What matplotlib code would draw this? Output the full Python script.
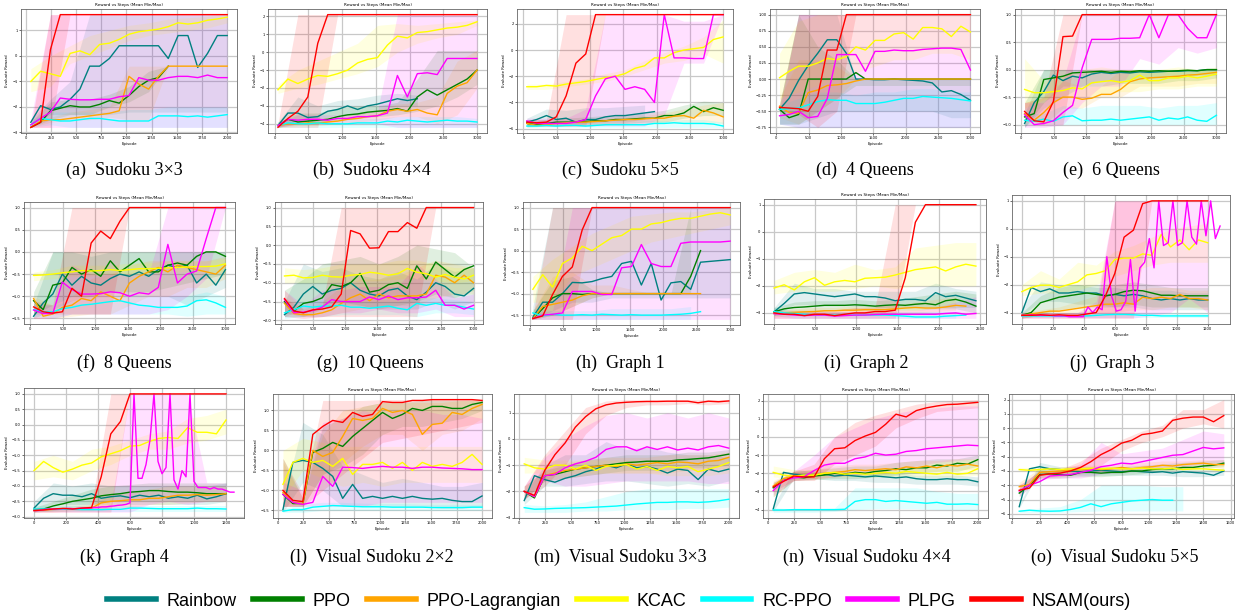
# -*- coding: utf-8 -*-
"""
Evaluate reward vs episode for the 15 benchmark tasks (mean line + min/max band).
"""

import numpy as np
import matplotlib.pyplot as plt
from matplotlib.lines import Line2D

ALGOS = ['Rainbow', 'PPO', 'PPO-Lagrangian', 'KCAC', 'RC-PPO', 'PLPG', 'NSAM(ours)']
KEYS = ['rainbow', 'ppo', 'lag', 'kcac', 'rcppo', 'plpg', 'nsam']
COLORS = ['teal', 'green', 'orange', 'yellow', 'cyan', 'magenta', 'red']

# means are read at 21 evenly spaced episodes over the panel range,
# bands (min, max) at 11 evenly spaced episodes. shorter lists = run stopped early.
# a tuple (first, last, values) gives a series its own episode range.

# (a) Sudoku 3x3
sudoku3_range = (50, 2000)
sudoku3_mean = dict(
    rainbow=[-2.6,-1.95,-2.1,-2.0,-1.7,-1.3,-0.4,-0.4,-0.1,0.4,0.4,0.4,0.4,0.4,-0.1,0.8,0.8,-0.45,0.1,0.8,0.8],
    ppo=[-2.8,-2.6,-2.15,-2.05,-1.95,-2.0,-2.0,-1.9,-1.75,-1.85,-1.55,-1.2,-0.95,-0.85,-0.4],
    lag=[-2.8,-2.55,-2.5,-2.5,-2.45,-2.4,-2.35,-2.3,-2.25,-2.15,-0.8,-1.1,-1.3,-0.8,-0.4,-0.4,-0.4,-0.4,-0.4,-0.4,-0.4],
    kcac=[-1.0,-0.6,-0.7,-0.8,0.1,0.2,0.05,0.45,0.5,0.65,0.85,0.95,1.0,1.05,1.15,1.3,1.25,1.3,1.4,1.45,1.52],
    rcppo=[-2.7,-2.45,-2.5,-2.55,-2.55,-2.5,-2.45,-2.45,-2.5,-2.55,-2.55,-2.55,-2.55,-2.35,-2.35,-2.35,-2.38,-2.35,-2.4,-2.35,-2.3],
    plpg=[-2.7,-2.45,-2.2,-1.65,-1.7,-1.72,-1.72,-1.7,-1.7,-1.6,-1.55,-0.85,-0.95,-0.95,-0.85,-0.8,-0.8,-0.85,-0.75,-0.85,-0.85],
    nsam=[-2.8,-2.6,0.25,1.62,1.62,1.62,1.62,1.62,1.62,1.62,1.62,1.62,1.62,1.62,1.62,1.62,1.62,1.62,1.62,1.62,1.62],
)
sudoku3_band = dict(
    rainbow=([-2.7,-2.3,-2.3,-2.3,-2.3,-2.2,-2.2,-2.2,-2.2,-2.2,-2.2], [-2.5,-1.7,-1.0,1.62,1.62,1.62,1.62,1.62,1.62,1.62,1.62]),
    ppo=([-2.8,-2.5,-2.3,-2.3,-2.0,-1.8,-1.4,-0.4], [-2.6,-1.8,-1.7,-1.7,-1.5,-1.2,-0.6,-0.4]),
    lag=([-2.8,-2.6,-2.5,-2.5,-2.4,-2.5,-2.5,-0.4,-0.4,-0.4,-0.4], [-2.8,-2.4,-2.2,-2.1,-2.0,-0.4,-0.4,-0.4,-0.4,-0.4,-0.4]),
    kcac=([-1.4,-1.2,-0.3,0.0,0.3,0.6,0.8,0.9,1.0,1.1,1.3], [-0.5,0.0,0.4,0.8,1.0,1.2,1.3,1.45,1.5,1.55,1.62]),
    rcppo=([-2.8,-2.7,-2.8,-2.8,-2.8,-2.8,-2.8,-2.8,-2.8,-2.8,-2.8], [-2.5,-2.2,-2.2,-2.2,-2.2,-2.1,-2.1,-2.0,-2.0,-2.0,-2.0]),
    plpg=([-2.8,-2.8,-2.8,-2.8,-2.8,-2.8,-2.8,-2.8,-2.8,-2.8,-2.8], [-2.5,1.62,1.62,1.62,1.62,1.62,1.62,1.62,1.62,1.62,1.62]),
    nsam=([-2.8,-2.8,1.62,1.62,1.62,1.62,1.62,1.62,1.62,1.62,1.62], [-2.8,1.62,1.62,1.62,1.62,1.62,1.62,1.62,1.62,1.62,1.62]),
)

# (b) Sudoku 4x4
sudoku4_range = (50, 3000)
sudoku4_mean = dict(
    rainbow=[-4.1,-3.4,-3.4,-3.65,-3.6,-3.3,-3.2,-3.0,-3.2,-3.0,-2.9,-2.75,-2.6,-2.7,-2.6],
    ppo=[-4.1,-3.75,-3.9,-3.85,-3.8,-3.75,-3.6,-3.5,-3.45,-3.35,-3.3,-3.25,-3.15,-3.3,-2.5,-2.1,-2.4,-2.1,-1.8,-1.5,-1.0],
    lag=[-4.1,-4.0,-4.0,-3.95,-3.95,-3.9,-3.85,-3.75,-3.7,-3.6,-3.55,-3.3,-3.2,-3.3,-3.2,-3.4,-3.5,-2.3,-1.9,-1.7,-1.0],
    kcac=[-2.1,-1.5,-1.75,-1.5,-1.3,-1.35,-1.2,-1.0,-0.6,-0.4,-0.3,0.4,0.9,0.8,1.1,1.15,1.25,1.35,1.4,1.5,1.7],
    rcppo=[-4.1,-3.95,-4.0,-4.0,-3.95,-4.0,-4.0,-4.0,-3.95,-3.95,-3.95,-3.85,-3.9,-3.8,-3.85,-3.9,-3.85,-3.8,-3.85,-3.85,-3.9],
    plpg=[-4.1,-3.75,-3.8,-3.75,-3.75,-3.8,-3.7,-3.7,-3.6,-3.6,-3.55,-3.4,-1.3,-2.5,-1.2,-1.15,-1.25,-0.35,-0.35,-0.35,-0.35],
    nsam=[-4.2,-3.7,-3.3,-2.5,0.5,2.1,2.1,2.1,2.1,2.1,2.1,2.1,2.1,2.1,2.1,2.1,2.1,2.1,2.1,2.1,2.1],
)
sudoku4_band = dict(
    rainbow=([-4.2,-3.8,-3.8,-3.5,-3.5,-3.3,-3.0,-3.0], [-3.9,-2.5,-3.0,-2.7,-2.6,-2.4,-2.3,-2.4]),
    ppo=([-4.2,-4.0,-4.0,-3.8,-3.7,-3.6,-3.5,-3.3,-3.0,-2.5,-1.8], [-3.9,-3.4,-3.4,-3.1,-3.0,-3.0,-2.8,-1.5,0.1,0.1,0.1]),
    lag=([-4.2,-4.1,-4.1,-4.0,-3.9,-3.8,-3.6,-3.6,-4.0,-3.5,-2.0], [-4.0,-3.8,-3.7,-3.6,-3.4,-3.2,-2.9,-2.8,-2.5,-0.5,0.1]),
    kcac=([-2.3,-2.0,-1.8,-1.5,-1.2,-0.8,0.0,0.5,0.8,1.0,1.5], [-1.8,-1.0,-0.5,0.0,0.5,1.5,1.6,1.5,1.6,1.7,1.8]),
    rcppo=([-4.2,-4.2,-4.2,-4.2,-4.2,-4.2,-4.2,-4.2,-4.2,-4.2,-4.2], [-3.9,-3.7,-3.8,-3.7,-3.7,-3.7,-3.6,-3.6,-3.6,-3.6,-3.7]),
    plpg=([-4.2,-4.0,-4.0,-4.0,-4.0,-4.0,-4.2,-4.2,-4.2,-4.2,-4.2], [-4.0,-3.5,-3.5,-3.5,-3.4,-3.3,2.1,2.1,2.1,2.1,2.1]),
    nsam=([-4.2,-4.2,-4.2,2.1,2.1,2.1,2.1,2.1,2.1,2.1,2.1], [-4.0,2.1,2.1,2.1,2.1,2.1,2.1,2.1,2.1,2.1,2.1]),
)

# (c) Sudoku 5x5
sudoku5_range = (50, 3000)
sudoku5_mean = dict(
    rainbow=[-5.5,-5.3,-5.0,-5.3,-5.2,-5.5,-5.3,-5.3,-5.1,-5.0,-5.0,-4.9,-4.8,-4.7],
    ppo=[-5.6,-5.7,-5.6,-5.5,-5.5,-5.5,-5.45,-5.4,-5.4,-5.3,-5.3,-5.25,-5.2,-5.2,-5.0,-5.0,-4.8,-4.3,-4.7,-4.4,-4.6],
    lag=[-5.6,-5.75,-5.7,-5.6,-5.55,-5.5,-5.5,-5.45,-5.4,-5.35,-5.3,-5.3,-5.25,-5.2,-5.2,-5.05,-5.0,-5.2,-4.6,-4.8,-5.1],
    kcac=[-2.8,-2.8,-2.7,-2.75,-2.6,-2.5,-2.4,-2.25,-2.1,-2.0,-1.8,-1.4,-1.2,-0.6,-0.6,-0.2,0.0,0.1,0.2,0.8,1.0],
    rcppo=[-5.8,-5.8,-5.75,-5.8,-5.75,-5.75,-5.8,-5.75,-5.7,-5.7,-5.7,-5.7,-5.7,-5.6,-5.6,-5.55,-5.6,-5.6,-5.6,-5.65,-5.8],
    plpg=[-5.4,-5.6,-5.6,-5.6,-5.6,-5.5,-5.3,-3.5,-2.2,-2.0,-3.0,-2.8,-3.0,-4.0,2.7,-0.6,-0.6,-0.65,-0.65,2.7,2.7],
    nsam=[-5.5,-5.55,-5.5,-5.1,-3.5,-1.0,-0.3,2.7,2.7,2.7,2.7,2.7,2.7,2.7,2.7,2.7,2.7,2.7,2.7,2.7,2.7],
)
sudoku5_band = dict(
    rainbow=([-5.8,-5.6,-5.6,-5.6,-5.5,-5.5,-5.3], [-5.2,-4.5,-4.6,-4.4,-4.4,-4.3,-4.2]),
    ppo=([-5.8,-5.8,-5.8,-5.7,-5.7,-5.6,-5.5,-5.5,-5.2,-5.0,-5.0], [-5.4,-5.3,-5.2,-5.1,-5.0,-5.0,-4.8,-4.6,-4.2,-3.9,-4.0]),
    lag=([-5.9,-5.8,-5.8,-5.8,-5.7,-5.7,-5.6,-5.5,-5.5,-5.5,-5.6], [-5.4,-5.5,-5.4,-5.3,-5.2,-5.1,-5.0,-4.8,-4.5,-4.2,-4.0]),
    kcac=([-3.0,-3.0,-2.8,-2.6,-2.4,-2.0,-1.5,-1.0,-0.8,-0.3,-1.0], [-2.6,-2.6,-2.4,-2.2,-1.8,-1.5,-0.8,-0.2,0.3,1.0,2.3]),
    rcppo=([-5.9,-5.9,-5.9,-5.9,-5.9,-5.9,-5.9,-5.9,-5.9,-5.9,-5.9], [-5.6,-5.6,-5.6,-5.5,-5.5,-5.5,-5.4,-5.4,-5.3,-5.3,-5.5]),
    plpg=([-5.8,-5.8,-5.8,-5.8,-5.8,-5.8,-5.8,-5.0,-1.0,-1.0,2.7], [-5.2,-5.2,-5.2,-4.5,2.7,2.7,2.7,2.7,2.2,2.2,2.7]),
    nsam=([-5.8,-5.8,-5.8,-5.8,2.7,2.7,2.7,2.7,2.7,2.7,2.7], [-5.3,-5.3,2.7,2.7,2.7,2.7,2.7,2.7,2.7,2.7,2.7]),
)

# (d) 4 Queens
queens4_range = (50, 3000)
queens4_mean = dict(
    rainbow=[-0.47,-0.3,-0.02,0.21,0.4,0.61,0.61,0.4,0.0,0.0,-0.01,-0.01,0.0,-0.01,-0.02,-0.03,-0.06,-0.2,-0.18,-0.24,-0.33],
    ppo=[-0.47,-0.6,-0.55,0.0,0.0,0.0,0.0,0.0,0.1,0.0,0.0,0.0,0.0,0.0,0.0,0.0,0.0,0.0,0.0,0.0,0.0],
    lag=[-0.42,-0.52,-0.53,-0.21,-0.17,-0.1,-0.09,-0.07,-0.03,0.0,0.0,0.0,0.0,0.0,0.0,0.0,0.0,0.0,0.0,0.0,0.0],
    kcac=[0.02,0.12,0.2,0.2,0.25,0.32,0.3,0.35,0.5,0.45,0.6,0.6,0.7,0.72,0.62,0.8,0.8,0.78,0.66,0.82,0.73],
    rcppo=[-0.47,-0.46,-0.45,-0.4,-0.35,-0.32,-0.33,-0.33,-0.38,-0.38,-0.38,-0.36,-0.33,-0.3,-0.3,-0.27,-0.28,-0.29,-0.3,-0.32,-0.34],
    plpg=[-0.57,-0.55,-0.5,-0.6,-0.58,-0.3,0.38,0.38,0.38,0.12,0.43,0.43,0.45,0.44,0.44,0.46,0.47,0.48,0.48,0.46,0.14],
    nsam=[-0.44,-0.45,-0.46,-0.5,-0.27,0.45,0.45,1.0,1.0,1.0,1.0,1.0,1.0,1.0,1.0,1.0,1.0,1.0,1.0,1.0,1.0],
)
queens4_band = dict(
    rainbow=([-0.7,-0.7,-0.6,-0.5,-0.5,-0.5,-0.5,-0.5,-0.5,-0.6,-0.6], [-0.4,1.0,1.0,1.0,0.0,0.0,0.0,0.0,0.0,0.0,0.0]),
    ppo=([-0.7,-0.7,-0.5,-0.3,-0.1,-0.1,-0.1,-0.1,-0.1,-0.1,-0.1], [-0.4,1.0,0.5,0.3,0.0,0.0,0.0,0.0,0.0,0.0,0.0]),
    lag=([-0.6,-0.7,-0.5,-0.3,0.0,0.0,0.0,0.0,0.0,0.0,0.0], [-0.3,0.3,0.3,0.2,0.0,0.0,0.0,0.0,0.0,0.0,0.0]),
    kcac=([-0.3,-0.2,-0.1,0.0,0.1,0.2,0.3,0.3,0.4,0.4,0.3], [0.4,0.9,1.0,1.0,1.0,1.0,1.0,1.0,1.0,1.0,1.0]),
    rcppo=([-0.7,-0.75,-0.75,-0.75,-0.75,-0.75,-0.75,-0.75,-0.75,-0.75,-0.75], [-0.4,-0.3,-0.2,-0.2,-0.25,-0.2,-0.2,-0.15,-0.15,-0.2,-0.2]),
    plpg=([-0.7,-0.75,-0.75,-0.75,-0.75,-0.75,-0.75,-0.75,-0.75,-0.75,-0.75], [-0.5,1.0,1.0,1.0,1.0,1.0,1.0,1.0,1.0,1.0,1.0]),
    nsam=([-0.5,-0.55,-0.75,-0.5,1.0,1.0,1.0,1.0,1.0,1.0,1.0], [-0.4,1.0,1.0,1.0,1.0,1.0,1.0,1.0,1.0,1.0,1.0]),
)

# (e) 6 Queens
queens6_range = (50, 3000)
queens6_mean = dict(
    rainbow=[-0.98,-0.6,-0.4,-0.1,-0.2,-0.12,-0.15,-0.08,-0.05,-0.07,-0.05,-0.06,-0.04,-0.05,-0.04,-0.03,-0.03,-0.02,-0.02,0.0,0.0],
    ppo=[-0.86,-0.8,-0.18,-0.15,-0.12,-0.06,-0.05,-0.04,-0.03,-0.05,-0.03,-0.04,-0.02,-0.03,-0.02,-0.03,-0.02,-0.01,-0.02,0.0,0.0],
    lag=[-0.8,-0.92,-0.78,-0.6,-0.5,-0.5,-0.54,-0.52,-0.45,-0.45,-0.36,-0.22,-0.17,-0.15,-0.14,-0.13,-0.12,-0.1,-0.09,-0.07,-0.05],
    kcac=[-0.36,-0.42,-0.42,-0.4,-0.38,-0.33,-0.35,-0.24,-0.22,-0.2,-0.23,-0.2,-0.1,-0.2,-0.2,-0.15,-0.15,-0.12,-0.15,-0.12,-0.08],
    rcppo=[-0.92,-0.94,-0.9,-0.94,-0.86,-0.84,-0.93,-0.92,-0.92,-0.9,-0.92,-0.9,-0.88,-0.86,-0.92,-0.88,-0.9,-0.86,-0.92,-0.94,-0.83],
    plpg=[-0.82,-1.0,-0.98,-0.93,-0.78,-0.65,0.03,0.55,0.55,0.55,0.57,0.57,0.58,1.0,0.58,1.0,1.0,0.75,0.58,0.58,1.0],
    nsam=[-0.76,-0.93,-0.95,-0.58,0.6,0.61,1.0,1.0,1.0,1.0,1.0,1.0,1.0,1.0,1.0,1.0,1.0,1.0,1.0,1.0,1.0],
)
queens6_band = dict(
    rainbow=([-1.05,-0.7,-0.5,-0.3,-0.2,-0.2,-0.15,-0.15,-0.15,-0.1,-0.1], [-0.8,0.0,0.0,0.0,0.0,0.0,0.0,0.0,0.0,0.0,0.0]),
    ppo=([-1.05,-0.6,-0.3,-0.3,-0.3,-0.25,-0.25,-0.25,-0.2,-0.2,-0.15], [-0.6,0.0,0.0,0.0,0.0,0.0,0.0,0.0,0.0,0.0,0.0]),
    lag=([-1.0,-1.0,-0.7,-0.7,-0.5,-0.5,-0.3,-0.3,-0.3,-0.25,-0.25], [-0.6,-0.5,-0.2,-0.3,-0.3,0.0,0.0,0.0,0.0,0.0,0.0]),
    kcac=([-0.7,-0.55,-0.5,-0.5,-0.45,-0.4,-0.4,-0.35,-0.35,-0.3,-0.3], [0.2,-0.2,-0.1,0.0,0.05,0.0,0.0,0.0,0.05,0.0,0.05]),
    rcppo=([-1.0,-1.0,-1.0,-1.0,-1.0,-1.0,-1.0,-1.0,-1.0,-1.0,-1.0], [-0.8,-0.8,-0.65,-0.7,-0.65,-0.65,-0.65,-0.7,-0.65,-0.65,-0.6]),
    plpg=([-1.05,-1.05,-1.0,-0.6,-0.3,-0.3,0.2,0.1,0.4,0.3,0.4], [-0.6,-0.6,-0.2,1.0,1.0,1.0,1.0,1.0,1.0,1.0,1.0]),
    nsam=([-0.9,-1.0,-1.0,1.0,1.0,1.0,1.0,1.0,1.0,1.0,1.0], [-0.6,-0.5,1.0,1.0,1.0,1.0,1.0,1.0,1.0,1.0,1.0]),
)

# (f) 8 Queens
queens8_range = (50, 3000)
queens8_mean = dict(
    rainbow=[-1.45,-1.15,-0.95,-0.5,-0.75,-0.55,-0.7,-0.75,-0.6,-0.5,-0.55,-0.45,-0.55,-0.4,-0.3,-0.35,-0.3,-0.7,-0.5,-0.75,-0.4],
    ppo=[-1.1,-1.3,-0.75,-0.7,-0.35,-0.5,-0.4,-0.55,-0.2,-0.45,-0.3,-0.15,-0.45,-0.45,-0.3,-0.25,-0.3,-0.1,0.0,0.0,-0.1],
    lag=[-1.05,-1.45,-1.4,-1.25,-1.2,-1.05,-1.1,-0.9,-1.0,-1.1,-0.7,-0.55,-0.45,-0.35,-0.45,-0.3,-0.35,-0.4,-0.45,-0.5,-0.3],
    kcac=[-0.53,-0.52,-0.5,-0.47,-0.45,-0.42,-0.43,-0.42,-0.4,-0.42,-0.4,-0.38,-0.38,-0.37,-0.36,-0.35,-0.34,-0.33,-0.33,-0.32,-0.27],
    rcppo=[-1.3,-1.35,-1.35,-1.28,-1.25,-1.2,-1.18,-1.15,-1.12,-1.1,-1.15,-1.2,-1.22,-1.25,-1.25,-1.25,-1.22,-1.1,-1.08,-1.15,-1.25],
    plpg=[-1.31,-1.39,-1.39,-0.68,-0.85,-0.95,-0.95,-0.94,-0.9,-0.92,-1.0,-0.92,-0.95,-0.8,0.17,-0.7,-0.5,-0.43,0.3,1.0,1.0],
    nsam=[-1.24,-1.35,-1.38,-1.35,-0.82,-1.0,0.2,0.47,0.3,0.69,1.0,1.0,1.0,1.0,1.0,1.0,1.0,1.0,1.0,1.0,1.0],
)
queens8_band = dict(
    rainbow=([-1.5,-1.3,-1.1,-1.0,-1.0,-1.0,-1.0,-1.0,-1.2,-1.0,-0.8], [-1.2,0.0,0.0,-0.1,0.0,0.0,0.0,0.0,0.0,0.0,0.0]),
    ppo=([-1.4,-1.2,-1.0,-1.0,-0.9,-0.9,-0.9,-0.8,-0.7,-0.6,-0.5], [-0.9,0.0,0.0,0.0,0.0,0.0,0.0,0.0,0.0,0.0,0.0]),
    lag=([-1.5,-1.5,-1.45,-1.4,-1.4,-1.2,-1.0,-1.0,-0.8,-0.8,-0.6], [-1.0,-1.2,-1.0,-0.6,-0.5,-0.3,-0.2,-0.2,-0.2,-0.2,-0.1]),
    kcac=([-0.65,-0.6,-0.55,-0.55,-0.5,-0.5,-0.5,-0.45,-0.45,-0.45,-0.45], [-0.45,-0.4,-0.3,-0.3,-0.3,-0.25,-0.25,-0.2,-0.2,-0.2,-0.15]),
    rcppo=([-1.45,-1.5,-1.4,-1.4,-1.4,-1.4,-1.4,-1.4,-1.45,-1.4,-1.4], [-1.15,-1.2,-1.1,-1.0,-1.0,-0.95,-1.0,-1.0,-1.0,-0.9,-1.0]),
    plpg=([-1.5,-1.5,-1.4,-1.4,-1.4,-1.4,-1.4,-1.3,-1.0,-0.6,1.0], [-1.2,-1.2,-0.3,-0.5,-0.5,-0.5,-0.5,1.0,1.0,1.0,1.0]),
    nsam=([-1.4,-1.4,-1.4,-1.4,-1.4,1.0,1.0,1.0,1.0,1.0,1.0], [-1.1,-1.2,1.0,1.0,1.0,1.0,1.0,1.0,1.0,1.0,1.0]),
)

# (g) 10 Queens
queens10_range = (50, 3000)
queens10_mean = dict(
    rainbow=[-1.85,-1.65,-1.3,-1.1,-1.3,-1.2,-1.15,-1.0,-1.2,-1.3,-1.35,-1.2,-1.15,-1.35,-1.45,-1.25,-1.0,-1.1,-1.3,-1.35,-1.15],
    ppo=[-1.5,-1.75,-1.55,-1.5,-1.4,-1.05,-1.1,-1.0,-0.75,-1.25,-1.2,-1.05,-1.0,-1.15,-0.55,-0.9,-0.45,-0.65,-0.85,-0.65,-0.55],
    lag=[-1.55,-1.82,-1.85,-1.85,-1.8,-1.72,-1.55,-1.4,-1.3,-1.48,-1.3,-1.4,-1.35,-1.35,-1.35,-1.3,-0.8,-0.85,-1.0,-0.8,-1.0],
    kcac=[-0.82,-0.8,-0.87,-0.86,-0.8,-0.84,-0.85,-0.8,-0.78,-0.72,-0.75,-0.8,-0.76,-0.62,-0.72,-0.76,-0.85,-0.78,-0.85,-0.9,-0.8],
    rcppo=[-1.8,-1.72,-1.62,-1.65,-1.62,-1.62,-1.6,-1.65,-1.65,-1.68,-1.65,-1.62,-1.68,-1.72,-1.55,-1.6,-1.55,-1.6,-1.6,-1.65,-1.7],
    plpg=[-1.45,-1.8,-1.78,-1.74,-1.65,-1.45,-1.5,-1.5,-1.5,-1.38,-1.45,-1.35,-1.45,-1.4,-1.4,-1.38,-1.2,-1.6,-1.6,-1.7,-1.6],
    nsam=[-1.42,-1.75,-1.8,-1.72,-1.7,-1.64,-1.3,0.39,0.3,-0.08,-0.07,0.36,0.36,0.6,0.45,1.0,1.0,1.0,1.0,1.0,1.0],
)
queens10_band = dict(
    rainbow=([-1.9,-1.7,-1.6,-1.5,-1.6,-1.7,-1.7,-1.7,-1.5,-1.7,-1.5], [-1.5,-0.5,-0.7,-0.6,-0.8,-0.9,-0.7,-0.9,-0.5,-0.7,-0.6]),
    ppo=([-1.9,-1.9,-1.7,-1.6,-1.6,-1.7,-1.6,-1.5,-1.3,-1.4,-1.2], [-1.2,-0.9,-0.5,-0.4,-0.3,-0.5,-0.3,0.0,-0.1,-0.2,-0.6]),
    lag=([-1.9,-1.95,-1.9,-1.8,-1.7,-1.6,-1.6,-1.6,-1.4,-1.3,-1.3], [-1.2,-1.7,-1.5,-1.1,-0.9,-0.9,-0.8,-0.6,-0.4,-0.5,-0.6]),
    kcac=([-1.0,-1.0,-1.0,-1.0,-0.95,-0.95,-0.9,-0.9,-0.95,-1.0,-0.95], [-0.6,-0.65,-0.6,-0.5,-0.5,-0.5,-0.4,-0.4,-0.5,-0.6,-0.6]),
    rcppo=([-1.95,-1.9,-1.9,-1.85,-1.85,-1.85,-1.85,-1.9,-1.8,-1.8,-1.85], [-1.6,-1.5,-1.45,-1.45,-1.5,-1.5,-1.5,-1.4,-1.4,-1.45,-1.5]),
    plpg=([-1.9,-1.95,-1.9,-1.8,-1.8,-1.7,-1.8,-1.8,-1.7,-1.9,-1.9], [-1.2,-1.6,-1.2,-1.2,-1.1,-1.1,-1.1,-0.5,-0.9,-1.4,-1.3]),
    nsam=([-1.8,-1.9,-1.9,-1.9,-1.9,-1.9,-1.9,-1.9,1.0,1.0,1.0], [-1.4,-1.7,-1.6,1.0,1.0,1.0,1.0,1.0,1.0,1.0,1.0]),
)

# (h) Graph 1
graph1_range = (50, 3000)
graph1_mean = dict(
    rainbow=[-1.55,-1.2,-1.2,-1.0,-0.74,-0.75,-0.72,-0.65,-0.6,-0.3,-0.25,-0.8,-0.3,-1.15,-0.75,-0.72,-0.9,-0.27,-0.25,-0.23,-0.21],
    ppo=[-1.58,-1.35,-1.1,-1.0,-1.0,-1.02,-1.0,-1.0,-1.0,-1.0,-1.0,-1.0,-1.0,-1.0,-1.0,-1.0,-0.6,0.0],
    lag=[-1.58,-1.3,-1.25,-1.2,-1.15,-1.05,-1.0,-1.0,-1.0,-1.0,-1.0,-1.0,-1.0,-1.0,-1.0,-1.0,-1.0,-1.0],
    kcac=[-0.9,-0.56,-0.85,-0.3,-0.17,0.1,0.0,0.15,0.3,0.35,0.5,0.5,0.62,0.65,0.71,0.75,0.75,0.8,0.85,0.88,0.83],
    rcppo=[-1.45,-1.52,-1.48,-1.5,-1.5,-1.49,-1.5,-1.48,-1.49,-1.5,-1.49,-1.5,-1.5,-1.5,-1.49,-1.48,-1.46,-1.42],
    plpg=[-1.58,-1.5,-1.48,-1.45,-0.95,-0.95,-0.95,-1.02,-1.02,-0.4,-0.37,0.14,-0.3,-0.37,-0.37,0.17,0.2,0.2,0.2,0.2,0.22],
    nsam=[-1.58,-1.52,-1.02,-0.6,-0.38,0.48,1.0,1.0,1.0,1.0,1.0,1.0,1.0,1.0,1.0,1.0,1.0,1.0,1.0,1.0,1.0],
)
graph1_band = dict(
    rainbow=([-1.6,-1.4,-1.2,-1.2,-1.1,-1.1,-1.1,-1.1,-1.1,-1.1,-1.1], [-1.3,1.0,1.0,1.0,1.0,1.0,1.0,1.0,1.0,1.0,1.0]),
    ppo=([-1.6,-1.5,-1.3,-1.1,-1.0,-1.0,-1.0,-1.0,-1.0], [-1.4,-0.7,-0.6,-0.9,-1.0,-1.0,-1.0,-1.0,1.0]),
    lag=([-1.6,-1.5,-1.3,-1.1,-1.0,-1.0,-1.0,-1.0,-1.0], [-1.4,-0.6,-0.5,-0.8,-0.8,-0.9,-1.0,-1.0,-1.0]),
    kcac=([-1.2,-1.2,-0.6,-0.4,-0.2,0.0,0.2,0.3,0.4,0.5,0.6], [-0.6,-0.2,0.1,0.4,0.6,0.8,0.85,0.9,0.9,0.95,1.0]),
    rcppo=([-1.6,-1.6,-1.6,-1.6,-1.6,-1.6,-1.6,-1.6,-1.6], [-1.35,-1.4,-1.4,-1.4,-1.35,-1.35,-1.35,-1.35,-1.3]),
    plpg=([-1.6,-1.6,-1.6,-1.6,-1.6,-1.6,-1.6,-1.6,-1.6,-1.6,-1.6], [-1.45,-1.4,1.0,1.0,1.0,1.0,1.0,1.0,1.0,1.0,1.0]),
    nsam=([-1.6,-1.6,-1.6,1.0,1.0,1.0,1.0,1.0,1.0,1.0,1.0], [-1.5,1.0,1.0,1.0,1.0,1.0,1.0,1.0,1.0,1.0,1.0]),
)

# (i) Graph 2
graph2_range = (0, 2450)
graph2_mean = dict(
    rainbow=[-2.96,-2.65,-2.3,-2.25,-2.3,-2.35,-2.4,-2.35,-2.3,-2.4,-2.4,-2.45,-2.55,-2.5,-2.5,-2.55,-2.25,-2.4,-2.35,-2.45,-2.55],
    ppo=[-2.96,-2.85,-2.8,-2.78,-2.75,-2.72,-2.72,-2.72,-2.7,-2.72,-2.75,-2.72,-2.7,-2.72,-2.68,-2.65,-2.7,-2.55,-2.5,-2.6,-2.75],
    lag=[-3.02,-3.0,-2.98,-2.96,-2.95,-2.92,-2.92,-2.9,-2.9,-2.88,-2.88,-2.88,-2.85,-2.82,-2.8,-2.82,-2.82,-2.78,-2.72,-2.75],
    kcac=[-2.08,-1.96,-2.15,-1.85,-1.7,-1.98,-1.85,-1.8,-1.85,-1.72,-1.7,-1.68,-1.6,-1.5,-1.4,-1.35,-1.3,-1.45,-1.3,-1.2,-1.27],
    rcppo=[-2.95,-3.0,-3.02,-3.05,-3.07,-3.07,-3.08,-3.08,-3.08,-3.08,-3.08,-3.08,-3.1,-3.12,-3.15,-3.15,-3.15,-3.12,-3.1,-3.08],
    plpg=[-3.03,-3.05,-3.08,-3.1,-3.08,-3.08,-3.12,-3.1,-3.08,-3.08,-3.06,-3.05,-3.05,-3.05,-3.05,-3.05,-3.05,-3.02,-3.0,-3.05,-3.02],
    nsam=[-3.0,-3.05,-3.05,-3.1,-3.05,-3.05,-3.1,-3.05,-3.0,-3.0,-2.95,-2.95,-2.9,-1.7,0.35,1.0,1.0,1.0,1.0,1.0,1.0],
)
graph2_band = dict(
    rainbow=([-3.1,-2.7,-2.7,-2.7,-2.75,-2.8,-2.8,-2.8,-2.8,-2.8,-2.8], [-2.8,-1.9,-2.1,-2.1,-2.2,-2.2,-2.2,-2.2,-1.9,-2.1,-2.2]),
    ppo=([-3.1,-3.0,-2.95,-2.9,-2.9,-2.9,-2.9,-2.9,-2.85,-2.85,-3.0], [-2.8,-2.6,-2.55,-2.55,-2.5,-2.55,-2.5,-2.4,-2.3,-2.2,-2.3]),
    lag=([-3.15,-3.1,-3.1,-3.05,-3.05,-3.0,-3.0,-3.0,-2.95,-2.9], [-2.9,-2.85,-2.8,-2.8,-2.75,-2.75,-2.7,-2.6,-2.5,-2.4]),
    kcac=([-2.3,-2.2,-2.2,-2.2,-2.1,-2.0,-2.1,-2.0,-2.0,-2.0,-2.0], [-1.8,-1.5,-1.4,-1.5,-1.2,-1.4,-1.3,-0.6,-0.5,-0.4,-0.4]),
    rcppo=([-3.1,-3.2,-3.2,-3.2,-3.2,-3.2,-3.2,-3.2,-3.2,-3.2], [-2.8,-2.95,-2.95,-2.95,-2.95,-2.95,-2.95,-2.95,-2.95,-2.95]),
    plpg=([-3.2,-3.2,-3.2,-3.2,-3.2,-3.2,-3.2,-3.2,-3.2,-3.2,-3.2], [-2.95,-2.95,-2.95,-2.95,-2.95,-2.9,-2.9,-2.9,-2.8,-2.6,-2.4]),
    nsam=([-3.2,-3.2,-3.2,-3.2,-3.2,-3.2,-3.2,1.0,1.0,1.0,1.0], [-2.9,-2.9,-2.9,-2.9,-2.8,-2.8,1.0,1.0,1.0,1.0,1.0]),
)

# (j) Graph 3
graph3_range = (0, 1200)
graph3_mean = dict(
    rainbow=[-3.0,-2.1,-2.25,-2.15,-2.3,-2.3,-2.25,-2.3,-2.3,-2.4,-2.35,-2.4,-2.35,-2.4,-2.5,-2.55,-2.5,-2.55,-2.5,-2.55,-2.55],
    ppo=[-3.1,-3.0,-2.65,-2.55,-2.45,-2.4,-2.35,-2.3,-2.35,-2.4,-2.35,-2.25,-2.2,-2.22,-2.3,-2.38,-2.38,-2.4,-2.4,-2.4,-2.4],
    lag=[-3.1,-3.05,-3.0,-2.95,-2.95,-2.9,-2.85,-2.8,-2.75,-2.7,-2.7,-2.65,-2.7,-2.45,-2.5,-2.45,-2.5,-2.35,-2.5,-2.5,-2.55],
    kcac=[-2.25,-2.1,-2.02,-2.02,-2.1,-2.0,-1.9,-1.65,-1.6,-1.5,-1.1,-1.05,-1.05,-0.9,-0.95,-0.2,-0.65,-0.4,-0.75,-0.4,-0.5],
    rcppo=[-3.12,-3.12,-3.12,-3.12,-3.13,-3.13,-3.12,-3.12,-3.1,-3.08,-3.07,-3.07,-3.08,-3.1,-3.1,-3.12,-3.12,-3.12,-3.12,-3.12,-3.12],
    plpg=(0, 1280, [-3.1,-3.1,-3.08,-3.1,-3.1,-3.1,-3.1,-3.12,-3.12,-3.12,-3.15,-3.15,-3.15,-3.15,-2.8,-3.0,-2.8,-2.9,-1.0,-2.4,
                    -2.95,-2.9,-2.6,-1.1,-2.95,-1.4,-1.2,-0.35,-1.4,1.0,-0.6,-0.5,1.0,-0.6,-0.5,1.0,-0.3,-0.55,1.0,-0.25,
                    1.0,-0.35,0.1]),
    nsam=[-3.1,-3.1,-3.08,-3.1,-3.08,-3.1,-3.1,-3.05,-3.0,-2.4,-1.6,-0.3,-0.05,0.9,1.0,1.0,1.0,1.0,1.0,1.0,1.0],
)
graph3_band = dict(
    rainbow=([-3.1,-2.6,-2.6,-2.7,-2.7,-2.8,-2.8,-2.9,-2.9,-2.9,-2.9], [-2.8,-1.9,-2.0,-2.0,-2.1,-2.1,-2.2,-2.2,-2.2,-2.3,-2.3]),
    ppo=([-3.2,-3.1,-2.9,-2.8,-2.8,-2.8,-2.7,-2.8,-2.8,-2.8,-2.8], [-3.0,-2.4,-2.1,-2.0,-2.0,-2.0,-1.9,-2.0,-2.1,-2.1,-2.1]),
    lag=([-3.2,-3.1,-3.1,-3.0,-3.0,-3.0,-2.9,-2.9,-2.8,-2.8,-2.9], [-3.0,-2.9,-2.8,-2.6,-2.4,-2.3,-2.2,-2.1,-2.1,-2.2,-2.2]),
    kcac=([-2.4,-2.3,-2.3,-2.2,-2.0,-1.7,-1.5,-1.3,-1.2,-1.2,-1.2], [-2.0,-1.5,-1.8,-1.2,-1.3,-0.8,-0.6,-0.3,0.0,0.1,0.2]),
    rcppo=([-3.2,-3.2,-3.2,-3.2,-3.2,-3.2,-3.2,-3.2,-3.2,-3.2,-3.2], [-3.0,-3.0,-3.0,-3.0,-3.0,-3.0,-3.0,-3.0,-3.0,-3.0,-3.0]),
    plpg=([-3.2,-3.2,-3.2,-3.2,-3.2,-3.2,-3.2,-3.1,-3.0,-2.5,-3.0], [-3.0,-3.0,-3.0,-3.0,-2.6,1.0,1.0,1.0,1.0,1.0,1.0]),
    nsam=([-3.2,-3.2,-3.2,-3.2,-3.2,-3.2,-3.2,1.0,1.0,1.0,1.0], [-3.0,-3.0,-3.0,-3.0,-2.9,1.0,1.0,1.0,1.0,1.0,1.0]),
)

# (k) Graph 4
graph4_range = (0, 1200)
graph4_mean = dict(
    rainbow=[-2.72,-2.4,-2.25,-2.3,-2.3,-2.35,-2.25,-2.4,-2.35,-2.32,-2.38,-2.3,-2.35,-2.3,-2.4,-2.35,-2.4,-2.3,-2.42,-2.35,-2.25],
    ppo=[-2.78,-2.75,-2.65,-2.58,-2.5,-2.45,-2.4,-2.32,-2.28,-2.25,-2.2,-2.18,-2.15,-2.15,-2.18,-2.2,-2.2,-2.22,-2.25,-2.25,-2.25],
    lag=[-2.8,-2.78,-2.76,-2.75,-2.74,-2.74,-2.72,-2.55,-2.5,-2.48,-2.45,-2.45,-2.4,-2.4,-2.35,-2.3,-2.3,-2.28,-2.3,-2.28,-2.25],
    kcac=[-1.5,-1.2,-1.4,-1.55,-1.45,-1.32,-1.25,-1.05,-0.95,-0.85,-0.7,-0.68,-0.55,-0.45,-0.42,-0.45,-0.1,-0.25,-0.25,-0.3,0.15],
    rcppo=[-2.75,-2.75,-2.76,-2.76,-2.76,-2.77,-2.77,-2.77,-2.76,-2.76,-2.72,-2.72,-2.73,-2.74,-2.74,-2.74,-2.74,-2.72,-2.74,-2.74,-2.75],
    plpg=(0, 1250, [-2.8,-2.8,-2.78,-2.76,-2.75,-2.75,-2.74,-2.74,-2.73,-2.73,-2.74,-2.73,-2.72,-2.72,-2.72,-2.7,-2.7,
                    -2.68,-2.68,-2.66,-2.65,-2.63,-2.62,-2.6,-2.55,1.0,-1.75,-1.75,-1.3,-0.5,1.0,-1.2,-1.6,-1.4,1.0,
                    -1.8,-2.1,-1.5,-1.7,1.0,-1.85,-2.05,-2.05,-2.05,-2.1,-2.05,-2.1,-2.1,-2.15,-2.2,-2.2]),
    nsam=[-2.8,-2.78,-2.75,-2.73,-2.75,-2.72,-2.7,-1.7,-0.3,0.1,1.0,1.0,1.0,1.0,1.0,1.0,1.0,1.0,1.0,1.0,1.0],
)
graph4_band = dict(
    rainbow=([-2.85,-2.6,-2.6,-2.6,-2.6,-2.6,-2.6,-2.6,-2.6,-2.6,-2.5], [-2.5,-1.9,-2.0,-1.9,-2.0,-2.0,-2.0,-2.0,-2.0,-2.0,-1.9]),
    ppo=([-2.85,-2.8,-2.7,-2.6,-2.5,-2.5,-2.5,-2.5,-2.5,-2.5,-2.5], [-2.7,-2.5,-2.3,-2.1,-2.0,-1.95,-1.9,-1.9,-1.9,-1.9,-1.9]),
    lag=([-2.85,-2.85,-2.8,-2.8,-2.7,-2.7,-2.6,-2.6,-2.55,-2.5,-2.5], [-2.7,-2.7,-2.65,-2.6,-2.3,-2.2,-2.1,-2.0,-2.0,-2.0,-2.0]),
    kcac=([-1.8,-1.7,-1.8,-1.5,-1.3,-1.0,-0.8,-0.8,-0.6,-0.5,-0.3], [-1.2,-1.0,-1.2,-0.8,-0.7,-0.5,-0.3,-0.2,0.2,0.3,0.5]),
    rcppo=([-2.85,-2.85,-2.85,-2.85,-2.85,-2.85,-2.85,-2.85,-2.85,-2.85,-2.85], [-2.65,-2.65,-2.65,-2.65,-2.65,-2.65,-2.65,-2.65,-2.65,-2.65,-2.65]),
    plpg=([-2.85,-2.85,-2.85,-2.85,-2.85,-2.85,-2.6,-2.5,-2.6,-2.5,-2.5], [-2.7,-2.7,-2.7,-2.65,-2.6,1.0,1.0,1.0,1.0,-1.9,-1.9]),
    nsam=([-2.85,-2.85,-2.85,-2.85,-2.85,1.0,1.0,1.0,1.0,1.0,1.0], [-2.7,-2.7,-2.7,-2.6,1.0,1.0,1.0,1.0,1.0,1.0,1.0]),
)

# (l) Visual Sudoku 2x2
vsudoku2_range = (50, 2000)
vsudoku2_mean = dict(
    rainbow=[-1.48,-0.3,-0.25,-0.3,-0.45,-0.65,-1.2,-0.85,-1.2,-1.15,-1.2,-1.15,-1.2,-1.15,-1.2,-1.22,-1.2,-1.25,-1.28,-1.28,-1.14],
    ppo=[-1.1,-1.33,-1.33,-0.05,0.05,0.2,0.1,0.35,0.55,0.75,0.95,0.8,0.9,1.05,1.0,1.1,1.1,1.05,1.05,1.15,1.2],
    lag=[-1.05,-1.3,-1.33,0.0,-0.15,-0.05,0.35,0.8,0.75,0.8,1.05,0.95,1.0,0.9,0.4,0.65,0.68,0.95,0.9,1.05,1.15],
    kcac=[-0.85,-0.3,-0.2,-0.3,-0.25,-0.4,-0.2,-0.6,-0.35,-0.35,-0.3,-0.45,-0.3,-0.5,-0.3,-0.4,-0.35,-0.4,-0.3,-0.1,-0.35],
    rcppo=[-1.52,-1.48,-1.48,-1.42,-1.4,-1.38,-1.39,-1.4,-1.41,-1.41,-1.41,-1.42,-1.42,-1.42,-1.42,-1.43,-1.43,-1.43,-1.43,-1.42,-1.42],
    plpg=[-1.1,-1.3,-1.35,-1.3,-0.65,-0.9,-0.42,-0.43,-0.45,-0.42,-0.4,-0.42,-0.42,-0.45,-0.42,-0.42,-0.44,-0.45,-0.46,-0.48,-0.48],
    nsam=[-1.0,-1.25,-1.28,0.4,0.6,0.75,0.7,0.95,0.85,0.9,1.22,1.2,1.2,1.25,1.25,1.27,1.27,1.27,1.27,1.27,1.25],
)
vsudoku2_band = dict(
    rainbow=([-1.55,-0.8,-1.0,-1.4,-1.4,-1.4,-1.4,-1.4,-1.45,-1.45,-1.4], [-1.3,0.7,0.4,-0.4,-0.6,-0.8,-0.7,-0.8,-0.9,-0.9,-0.8]),
    ppo=([-1.4,-1.4,-0.6,-0.4,-0.1,0.4,0.6,0.6,0.7,0.8,1.0], [-0.2,-1.2,0.6,0.8,1.1,1.2,1.2,1.25,1.25,1.25,1.25]),
    lag=([-1.4,-1.4,-0.6,-0.3,0.1,0.4,0.4,0.0,0.4,0.5,0.8], [-0.3,-1.2,0.4,1.0,1.1,1.2,1.2,1.2,1.2,1.25,1.25]),
    kcac=([-1.2,-0.5,-0.7,-0.9,-0.8,-0.9,-0.8,-0.8,-0.8,-0.8,-0.8], [0.0,0.3,0.2,0.1,0.1,0.1,0.1,0.1,0.1,0.1,0.1]),
    rcppo=([-1.55,-1.55,-1.5,-1.5,-1.5,-1.5,-1.5,-1.5,-1.5,-1.5,-1.5], [-1.45,-1.35,-1.3,-1.3,-1.32,-1.33,-1.33,-1.35,-1.35,-1.35,-1.35]),
    plpg=([-1.4,-1.4,-1.4,-1.4,-1.4,-1.3,-1.3,-1.3,-1.3,-1.3,-1.3], [-0.8,-1.0,0.7,0.8,1.0,0.9,1.0,1.0,0.9,0.9,0.8]),
    nsam=([-1.4,-1.4,-1.0,-0.6,-0.2,0.2,0.3,0.4,0.5,0.6,0.7], [-0.2,-1.1,1.25,1.25,1.25,1.27,1.27,1.27,1.27,1.27,1.27]),
)

# (m) Visual Sudoku 3x3
vsudoku3_range = (50, 2000)
vsudoku3_mean = dict(
    rainbow=[-2.35,-1.4,-1.55,-1.65,-1.5,-1.4,-1.25,-1.15,-1.0,-1.1,-0.95,-1.1,-1.05,-1.15,-1.3,-1.15,-1.2,-1.55,-1.15,-1.25,-1.15],
    ppo=[-2.0,-2.25,-1.4,-1.35,-1.25,-1.15,-1.1,-1.05,-1.0,-0.95,-0.9,-0.88,-0.85,-0.85,-0.85,-0.8,-0.78,-0.75,-0.72,-0.65,-0.58],
    lag=[-2.0,-2.2,-1.4,-1.3,-1.2,-1.15,-1.1,-1.05,-1.0,-1.05,-0.95,-1.0,-0.95,-0.9,-0.95,-0.88,-0.9,-0.95,-0.85,-0.82,-0.7],
    kcac=[-0.95,-1.1,-1.15,-1.0,-1.0,-1.15,-1.0,-1.2,-1.05,-1.0,-0.98,-1.15,-1.05,-1.2,-1.05,-1.1,-1.05,-1.25,-1.15,-1.05,-0.9],
    rcppo=[-2.62,-2.68,-2.67,-2.65,-2.64,-2.63,-2.62,-2.6,-2.58,-2.56,-2.52,-2.48,-2.45,-2.42,-2.42,-2.4,-2.4,-2.42,-2.4,-2.36,-2.3],
    plpg=[-2.0,-2.2,-1.4,-1.35,-1.1,-0.95,-0.85,-0.7,-0.4,-0.3,-0.3,-0.45,-0.3,-0.4,-0.3,-0.42,-0.35,-0.42,-0.3,-0.25,-0.35],
    nsam=[-2.0,-2.15,-1.2,-0.6,-0.15,0.45,0.85,1.15,1.3,1.37,1.4,1.42,1.43,1.43,1.44,1.44,1.44,1.38,1.44,1.42,1.45],
)
vsudoku3_band = dict(
    rainbow=([-2.5,-1.8,-1.8,-1.7,-1.6,-1.6,-1.7,-1.8,-1.7,-1.8,-1.6], [-2.1,-1.0,-0.6,-0.6,-0.1,-0.4,-0.3,-0.5,-0.6,-0.6,-0.7]),
    ppo=([-2.3,-1.6,-1.5,-1.4,-1.3,-1.2,-1.2,-1.2,-1.1,-1.1,-1.0], [-1.8,-1.2,-1.0,-0.8,-0.7,-0.6,-0.6,-0.6,-0.5,-0.5,-0.4]),
    lag=([-2.3,-1.6,-1.5,-1.4,-1.3,-1.3,-1.3,-1.3,-1.2,-1.2,-1.1], [-1.8,-1.2,-0.9,-0.8,-0.7,-0.7,-0.7,-0.6,-0.6,-0.6,-0.5]),
    kcac=([-1.3,-1.3,-1.3,-1.3,-1.3,-1.3,-1.3,-1.4,-1.4,-1.4,-1.3], [-0.7,-0.8,-0.8,-0.8,-0.8,-0.8,-0.8,-0.8,-0.9,-0.8,-0.7]),
    rcppo=([-2.8,-2.8,-2.8,-2.75,-2.75,-2.7,-2.7,-2.7,-2.65,-2.65,-2.6], [-2.5,-2.55,-2.5,-2.4,-2.2,-2.0,-1.9,-1.9,-1.9,-1.9,-1.9]),
    plpg=([-2.3,-1.6,-1.8,-1.8,-1.7,-1.6,-1.6,-1.6,-1.6,-1.7,-1.7], [-1.8,-0.7,0.0,0.5,0.9,1.0,0.8,1.0,0.8,1.0,0.8]),
    nsam=([-2.3,-1.8,-1.0,0.2,0.9,1.2,1.3,1.3,1.35,1.3,1.35], [-1.8,-0.6,0.3,1.2,1.45,1.5,1.5,1.5,1.5,1.5,1.5]),
)

# (n) Visual Sudoku 4x4
vsudoku4_range = (50, 2000)
vsudoku4_mean = dict(
    rainbow=[-3.96,-1.95,-2.05,-2.1,-2.1,-2.05,-2.15,-2.1,-2.15,-2.2,-2.15,-2.2,-2.25,-2.2,-2.3,-2.35,-2.35,-2.3,-2.35,-2.35,-2.47],
    ppo=[-2.8,-2.4,-2.2,-2.25,-2.15,-2.1,-2.0,-2.05,-1.95,-2.0,-1.9,-1.85,-1.75,-1.8,-1.7,-1.7,-1.55,-1.6,-1.45,-1.5,-1.25],
    lag=[-2.7,-2.3,-2.15,-2.15,-2.1,-2.0,-1.95,-1.9,-1.8,-1.85,-1.8,-1.75,-1.8,-1.65,-1.7,-1.6,-1.7,-1.55,-1.6,-1.5,-1.6],
    kcac=[-1.95,-2.1,-2.15,-2.1,-2.1,-2.0,-1.95,-2.05,-2.0,-2.05,-2.0,-1.95,-2.0,-1.9,-1.95,-2.0,-2.05,-1.95,-2.05,-2.0,-1.75],
    rcppo=[-4.02,-4.02,-4.0,-4.0,-4.0,-4.0,-4.0,-3.98,-3.55,-3.45,-3.45,-3.55,-3.5,-3.55,-3.6,-3.65,-3.6,-3.7,-3.7,-3.68,-3.72],
    plpg=[-2.95,-2.4,-2.25,-2.2,-1.85,-1.55,-1.45,-1.45,-1.2,-1.1,-0.9,-1.0,-0.95,-0.8,-0.75,-0.65,-0.6,-0.55,-0.5,-0.45,-0.48],
    nsam=[-2.75,-2.45,-2.15,-2.2,-2.2,-1.2,-0.65,-0.6,-0.2,0.05,0.25,0.7,1.25,1.1,1.45,1.6,1.7,1.78,1.8,1.85,1.9],
)
vsudoku4_band = dict(
    rainbow=([-4.1,-2.3,-2.3,-2.4,-2.4,-2.5,-2.5,-2.6,-2.6,-2.6,-2.7], [-3.8,-1.8,-1.9,-1.9,-1.9,-2.0,-2.0,-2.1,-2.1,-2.1,-2.2]),
    ppo=([-3.3,-2.4,-2.35,-2.3,-2.3,-2.2,-2.1,-2.0,-1.9,-1.9,-1.6], [-2.5,-1.9,-1.8,-1.7,-1.6,-1.6,-1.4,-1.3,-1.2,-1.2,-1.0]),
    lag=([-3.3,-2.4,-2.3,-2.2,-2.1,-2.1,-2.0,-1.9,-1.9,-1.8,-1.8], [-2.4,-1.9,-1.8,-1.6,-1.5,-1.5,-1.4,-1.3,-1.3,-1.2,-1.2]),
    kcac=([-2.2,-2.3,-2.3,-2.2,-2.2,-2.2,-2.2,-2.2,-2.2,-2.2,-2.1], [-1.6,-1.8,-1.8,-1.75,-1.8,-1.75,-1.75,-1.75,-1.8,-1.75,-1.5]),
    rcppo=([-4.15,-4.15,-4.15,-4.1,-4.0,-3.95,-3.95,-3.95,-4.0,-4.0,-4.0], [-3.9,-3.95,-3.95,-3.9,-2.8,-2.8,-2.8,-2.8,-3.0,-3.1,-3.1]),
    plpg=([-3.2,-2.4,-2.3,-2.2,-2.1,-2.0,-1.8,-1.6,-1.4,-1.3,-1.2], [-2.6,-1.9,-1.0,0.0,0.5,1.0,1.3,1.5,1.6,1.7,1.7]),
    nsam=([-3.0,-2.4,-2.4,-1.5,-1.0,-0.5,0.5,1.0,1.4,1.5,1.6], [-2.5,-1.9,-1.5,0.0,0.8,1.2,1.5,1.8,1.95,2.0,2.05]),
)

# (o) Visual Sudoku 5x5
vsudoku5_range = (50, 1550)
vsudoku5_mean = dict(
    rainbow=[-5.5,-2.85,-2.7,-2.85,-2.9,-3.0,-3.05,-3.0,-2.95,-3.0,-3.05,-3.0,-3.05,-3.1,-3.05,-3.15,-3.05,-3.1,-3.15,-3.3,-3.0],
    ppo=[-4.55,-4.0,-3.25,-3.2,-3.25,-3.3,-3.1,-3.1,-3.15,-3.1,-3.1,-3.0,-3.0,-2.9,-2.85,-2.85,-2.75,-2.75,-2.65,-2.6,-2.45],
    lag=[-4.1,-3.95,-3.1,-3.05,-3.0,-2.95,-2.9,-2.85,-2.9,-2.85,-2.75,-2.85,-2.75,-2.7,-2.6,-2.65,-2.55,-2.5,-2.45,-2.55,-2.55],
    kcac=[-2.9,-2.95,-2.9,-2.85,-2.9,-2.85,-2.85,-2.8,-2.85,-2.8,-2.85,-2.85,-2.8,-2.85,-2.85,-2.8,-2.9,-2.85,-2.85,-2.9,-2.95],
    rcppo=[-5.82,-5.75,-5.8,-5.82,-5.8,-5.7,-5.55,-5.3,-5.5,-5.3,-5.2,-5.1,-5.05,-5.0,-5.05,-5.05],
    plpg=[-4.4,-4.0,-3.75,-3.35,-3.3,-3.25,-3.1,-2.95,-2.7,-2.6,-2.45,-2.5,-2.35,-2.2,-2.05,-1.9,-1.85,-1.6,-1.35,-1.45,-1.38],
    nsam=[-4.35,-4.2,-3.3,-3.2,-3.15,-3.0,-2.75,-2.35,-1.85,-1.5,-1.05,-0.85,-0.45,-0.35,-0.2,0.55,0.7,0.78,0.78,0.45,0.88],
)
vsudoku5_band = dict(
    rainbow=([-5.6,-3.0,-3.3,-3.3,-3.3,-3.3,-3.3,-3.3,-3.4,-3.4,-3.3], [-5.4,-2.4,-2.7,-2.7,-2.7,-2.7,-2.8,-2.8,-2.8,-2.9,-2.8]),
    ppo=([-4.8,-3.5,-3.5,-3.4,-3.4,-3.3,-3.2,-3.0,-2.9,-2.8,-2.7], [-4.2,-2.9,-3.0,-2.8,-2.8,-2.7,-2.6,-2.5,-2.4,-2.3,-2.2]),
    lag=([-4.6,-3.3,-3.2,-3.1,-3.0,-3.0,-2.9,-2.8,-2.8,-2.7,-2.8], [-3.8,-2.8,-2.7,-2.6,-2.6,-2.5,-2.4,-2.3,-2.3,-2.2,-2.2]),
    kcac=([-3.0,-3.0,-3.0,-2.95,-2.95,-2.95,-2.95,-2.95,-2.95,-2.95,-3.0], [-2.75,-2.75,-2.75,-2.7,-2.7,-2.7,-2.7,-2.7,-2.7,-2.75,-2.8]),
    rcppo=([-5.9,-5.9,-5.9,-5.85,-5.8,-5.8,-5.8,-5.8,-5.8], [-5.7,-5.6,-5.5,-5.0,-4.0,-4.0,-4.0,-4.1,-4.1]),
    plpg=([-4.8,-3.6,-3.5,-3.5,-3.2,-3.1,-3.0,-2.8,-2.7,-2.5,-2.4], [-4.0,-3.0,-2.9,-2.5,-1.0,-1.8,-1.6,-1.4,-0.8,-0.2,-0.4]),
    nsam=([-4.6,-3.5,-3.4,-3.2,-2.6,-1.6,-1.0,-0.6,0.0,0.3,0.0], [-4.0,-3.0,-2.9,-2.3,-1.4,-0.8,-0.2,0.2,1.3,1.3,2.0]),
)


W, H = 1238, 615
fig = plt.figure(figsize=(W / 100, H / 100), dpi=100)


def add_ax(box):
    l, t, r, b = box
    return fig.add_axes([l / W, 1 - b / H, (r - l) / W, (b - t) / H])


def draw_panel(ax, rng, mean, band, xstep, ystep, title):
    grid = np.linspace(rng[0], rng[1], 21)
    bgrid = np.linspace(rng[0], rng[1], 11)
    for key, color in zip(KEYS, COLORS):
        vals = mean[key]
        if isinstance(vals, tuple):
            xs = np.linspace(vals[0], vals[1], len(vals[2]))
            vals = vals[2]
        else:
            xs = grid[:len(vals)]
        ax.plot(xs, vals, color=color, lw=1.0)
        lo, hi = band[key]
        ax.fill_between(bgrid[:len(lo)], lo, hi, color=color, alpha=0.12, lw=0)
    ax.xaxis.set_major_locator(plt.MultipleLocator(xstep))
    ax.yaxis.set_major_locator(plt.MultipleLocator(ystep))
    ax.grid(True, color='#c8c8c8', lw=0.9)
    ax.set_axisbelow(True)
    ax.tick_params(labelsize=2.6, length=1.5, width=0.4, pad=1)
    for s in ax.spines.values():
        s.set_linewidth(0.6)
        s.set_color('#666666')
    ax.set_xlabel('Episode', fontsize=2.8, labelpad=1)
    ax.set_ylabel('Evaluate Reward', fontsize=2.8, labelpad=2)
    if title:
        ax.set_title('Reward vs Steps (Mean Min/Max)', fontsize=3.0, pad=2)


# caption, data, tick steps, title shown, axes box (left, top, right, bottom) in px, caption centre
panels = [
    ('(a)  Sudoku 3×3', sudoku3_range, sudoku3_mean, sudoku3_band, 250, 1, True, (21, 9, 237, 133), 124),
    ('(b)  Sudoku 4×4', sudoku4_range, sudoku4_mean, sudoku4_band, 500, 1, True, (268, 9, 487, 133), 372),
    ('(c)  Sudoku 5×5', sudoku5_range, sudoku5_mean, sudoku5_band, 500, 2, True, (517, 9, 733, 133), 620),
    ('(d)  4 Queens', queens4_range, queens4_mean, queens4_band, 500, 0.25, True, (770, 9, 980, 133), 865),
    ('(e)  6 Queens', queens6_range, queens6_mean, queens6_band, 500, 0.5, True, (1015, 9, 1226, 133), 1111),
    ('(f)  8 Queens', queens8_range, queens8_mean, queens8_band, 500, 0.5, True, (24, 202, 235, 324), 124),
    ('(g)  10 Queens', queens10_range, queens10_mean, queens10_band, 500, 0.5, True, (275, 202, 483, 324), 370),
    ('(h)  Graph 1', graph1_range, graph1_mean, graph1_band, 500, 0.5, True, (523, 202, 740, 325), 620),
    ('(i)  Graph 2', graph2_range, graph2_mean, graph2_band, 500, 1, True, (764, 199, 986, 324), 866),
    ('(j)  Graph 3', graph3_range, graph3_mean, graph3_band, 200, 1, False, (1012, 195, 1230, 324), 1112),
    ('(k)  Graph 4', graph4_range, graph4_mean, graph4_band, 200, 0.5, False, (24, 388, 244, 518), 124),
    ('(l)  Visual Sudoku 2×2', vsudoku2_range, vsudoku2_mean, vsudoku2_band, 250, 0.5, True, (273, 394, 492, 518), 372),
    ('(m)  Visual Sudoku 3×3', vsudoku3_range, vsudoku3_mean, vsudoku3_band, 250, 1, True, (514, 394, 739, 518), 620),
    ('(n)  Visual Sudoku 4×4', vsudoku4_range, vsudoku4_mean, vsudoku4_band, 250, 1, True, (763, 394, 988, 518), 867),
    ('(o)  Visual Sudoku 5×5', vsudoku5_range, vsudoku5_mean, vsudoku5_band, 200, 1, True, (1009, 394, 1234, 518), 1115),
]
caption_y = [170, 363, 557]

for idx, (cap, rng, mean, band, xs, ys, show_title, box, cx) in enumerate(panels):
    ax = add_ax(box)
    draw_panel(ax, rng, mean, band, xs, ys, show_title)
    fig.text(cx / W, 1 - caption_y[idx // 5] / H, cap, ha='center', va='center',
             fontsize=13, family='Liberation Serif')

handles = [Line2D([0], [0], color=c, lw=4) for c in COLORS]
fig.legend(handles, ALGOS, loc='center', bbox_to_anchor=(0.5, 1 - 601 / H), ncol=7,
           frameon=False, handlelength=2.7, handletextpad=0.6, columnspacing=0.9,
           prop={'family': 'Liberation Sans', 'size': 13})

fig.savefig('out.png', dpi=100)
